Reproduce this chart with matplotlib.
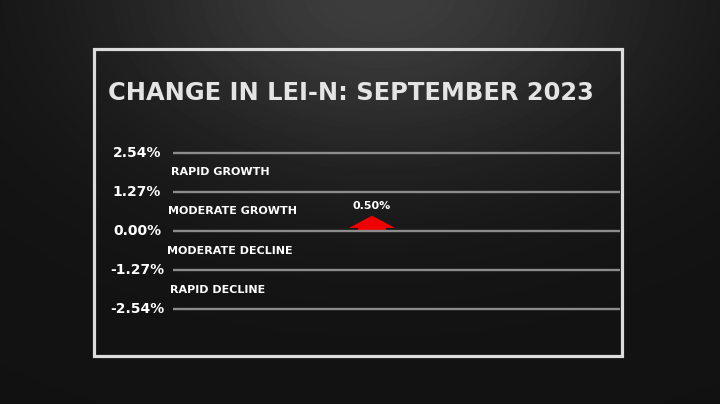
import numpy as np
import matplotlib
matplotlib.use('Agg')
import matplotlib.pyplot as plt
from matplotlib.patches import Rectangle, FancyArrow

plt.rcParams['font.family'] = ['DejaVu Sans']

# ─── Дані ────────────────────────────────────────────────────────────────────
TITLE = "CHANGE IN LEI-N: SEPTEMBER 2023"
LEVELS = [2.54, 1.27, 0.00, -1.27, -2.54]
LEVEL_LABELS = ["2.54%", "1.27%", "0.00%", "-1.27%", "-2.54%"]
ZONES = ["RAPID GROWTH", "MODERATE GROWTH", "MODERATE DECLINE", "RAPID DECLINE"]
CHANGE = 0.50
CHANGE_LABEL = "0.50%"

W, H = 720, 404
fig = plt.figure(figsize=(W / 100, H / 100), dpi=100)

# фон: радіальний градієнт
bg = fig.add_axes([0, 0, 1, 1])
yy, xx = np.mgrid[0:H, 0:W]
glow = np.exp(-(((xx - 380) / 270.0) ** 2 + ((yy + 10) / 180.0) ** 2))
img = 0.07 + 0.17 * glow
bg.imshow(img, cmap='gray', vmin=0, vmax=1, extent=(0, W, H, 0), aspect='auto')
bg.set_xlim(0, W)
bg.set_ylim(H, 0)
bg.axis('off')

# рамка
bg.add_patch(Rectangle((93.5, 48.5), 528.5, 307, fill=False,
                       edgecolor='#dcdcdc', linewidth=2.3))
bg.text(108, 93, TITLE, color='#e4e4e4', fontsize=17.4, fontweight='bold',
        va='center', ha='left')

# основна вісь: лінії рівнів
px_per = 30.71
y0 = 231
x_left, x_right = 173, 620
ax = fig.add_axes([x_left / W, 0, (x_right - x_left) / W, 1])
ax.set_xlim(0, 1)
ax.set_ylim((y0 - H) / px_per, y0 / px_per)
ax.axis('off')

for v, lab in zip(LEVELS, LEVEL_LABELS):
    ax.axhline(v, color='#8c8c8c', linewidth=1.7, xmin=0, xmax=1)
    ax.text(-36 / (x_right - x_left), v, lab, color='white', fontsize=10,
            fontweight='bold', ha='center', va='center', clip_on=False)

zone_offsets = [-2, -5, -6, -3]
for i, (z, off) in enumerate(zip(ZONES, zone_offsets)):
    mid = (LEVELS[i] + LEVELS[i + 1]) / 2
    ax.text(off / (x_right - x_left), mid, z, color='white', fontsize=8,
            fontweight='bold', ha='left', va='center', clip_on=False)

# стрілка зміни
xc = (372 - x_left) / (x_right - x_left)
ax.add_patch(FancyArrow(xc, 0, 0, CHANGE, width=28 / (x_right - x_left),
                        head_width=46 / (x_right - x_left), head_length=0.40,
                        length_includes_head=True, color='#f00000', linewidth=0))
ax.text(xc, CHANGE + 0.33, CHANGE_LABEL, color='white', fontsize=8,
        fontweight='bold', ha='center', va='center')

fig.savefig('out.png', dpi=100)
